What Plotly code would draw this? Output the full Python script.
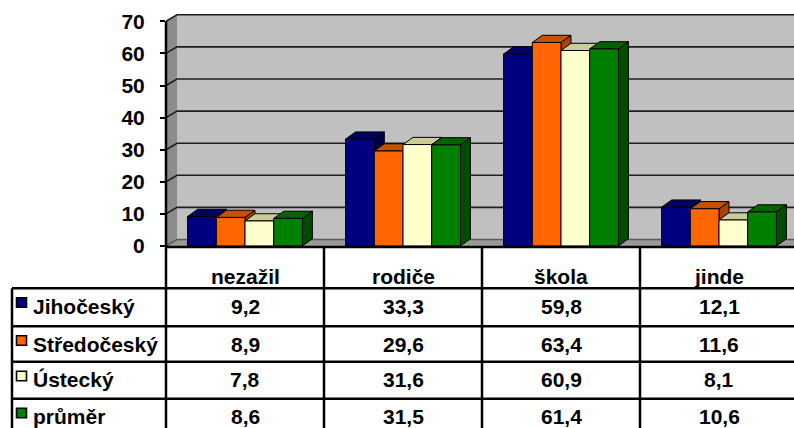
import plotly.graph_objects as go

# ---- data -------------------------------------------------------------
categories = ["nezažil", "rodiče", "škola", "jinde"]
regions = ["Jihočeský", "Středočeský", "Ústecký", "průměr"]
jihocesky = [9.2, 33.3, 59.8, 12.1]
stredocesky = [8.9, 29.6, 63.4, 11.6]
ustecky = [7.8, 31.6, 60.9, 8.1]
prumer = [8.6, 31.5, 61.4, 10.6]
y_ticks = [0, 10, 20, 30, 40, 50, 60, 70]

series = [jihocesky, stredocesky, ustecky, prumer]

# ---- styling ----------------------------------------------------------
front_colors = ["#000080", "#FF6600", "#FFFFCC", "#008000"]
top_colors = ["#000060", "#C45200", "#CCCC99", "#006400"]
side_colors = ["#00004A", "#A84400", "#B5B58A", "#004C00"]

FONT = dict(family="Liberation Sans, Arial, sans-serif", size=21, color="#000000", weight="bold")

W, H = 794, 428
ML, MT, MB = 166, 12, 182
PLOT_W = W - ML
PLOT_H = H - MT - MB
CAT_PX = 158          # width of one category in pixels
PX_PER_UNIT = 3.21    # vertical pixels per value unit

x_range = [-0.5, -0.5 + PLOT_W / CAT_PX]
y_range = [0, PLOT_H / PX_PER_UNIT]
y_top = y_ticks[-1]

BAR_W = 28.7 / CAT_PX
BAR_DX = 10 / CAT_PX
BAR_DY = 7.2 / PX_PER_UNIT
WALL_DX = 11 / CAT_PX
WALL_DY = 6.5 / PX_PER_UNIT


def px_x(px):
    """pixel column -> paper x"""
    return (px - ML) / PLOT_W


def px_y(py):
    """pixel row -> paper y"""
    return (H - MB - py) / PLOT_H


def bar_faces(k, vals):
    front = ([], [])
    top = ([], [])
    side = ([], [])
    for i, v in enumerate(vals):
        x0 = i + (k - 1.5) * BAR_W - BAR_W / 2
        x1 = x0 + BAR_W
        front[0].extend([x0, x1, x1, x0, x0, None])
        front[1].extend([0, 0, v, v, 0, None])
        top[0].extend([x0, x1, x1 + BAR_DX, x0 + BAR_DX, x0, None])
        top[1].extend([v, v, v + BAR_DY, v + BAR_DY, v, None])
        side[0].extend([x1, x1 + BAR_DX, x1 + BAR_DX, x1, x1, None])
        side[1].extend([0, BAR_DY, v + BAR_DY, v, 0, None])
    return front, top, side


fig = go.Figure()

for k, vals in enumerate(series):
    front, top, side = bar_faces(k, vals)
    for (xs, ys), col in ((side, side_colors[k]), (top, top_colors[k]), (front, front_colors[k])):
        fig.add_trace(go.Scatter(
            x=xs, y=ys, mode="lines", fill="toself", fillcolor=col,
            line=dict(color="#000000", width=1), hoverinfo="skip",
            showlegend=False, name=regions[k],
        ))

shapes = []
xl = x_range[0]
xr = x_range[1] + 0.1

# back wall, side wall and floor of the 3D box
shapes.append(dict(type="path", xref="x", yref="y", layer="below",
                   path=f"M{xl + WALL_DX},{WALL_DY} L{xr},{WALL_DY} L{xr},{y_top + WALL_DY} L{xl + WALL_DX},{y_top + WALL_DY} Z",
                   fillcolor="#C0C0C0", line=dict(width=0)))
shapes.append(dict(type="path", xref="x", yref="y", layer="below",
                   path=f"M{xl},0 L{xl + WALL_DX},{WALL_DY} L{xl + WALL_DX},{y_top + WALL_DY} L{xl},{y_top} Z",
                   fillcolor="#8C8C8C", line=dict(width=0)))
shapes.append(dict(type="path", xref="x", yref="y", layer="below",
                   path=f"M{xl},0 L{xr},0 L{xr},{WALL_DY} L{xl + WALL_DX},{WALL_DY} Z",
                   fillcolor="#9A9A9A", line=dict(width=0)))

# gridlines running along the side wall and the back wall
for v in y_ticks:
    col = "#5A5A5A" if v == 0 else "#1E1E1E"
    shapes.append(dict(type="path", xref="x", yref="y", layer="below",
                       path=f"M{xl},{v} L{xl + WALL_DX},{v + WALL_DY} L{xr},{v + WALL_DY}",
                       line=dict(color=col, width=1.6)))

# front value axis line, continuing down as the table border
table_bottom = px_y(H + 10)
shapes.append(dict(type="line", xref="paper", yref="paper", x0=0, x1=0,
                   y0=y_top / y_range[1], y1=table_bottom,
                   line=dict(color="#000000", width=2.5)))
# front category axis line (top of table header)
shapes.append(dict(type="line", xref="paper", yref="paper", x0=0, x1=1.01,
                   y0=px_y(247), y1=px_y(247), line=dict(color="#000000", width=2.6)))

# data table grid
row_lines = [288.3, 326.3, 361.7, 398.7]
TABLE_LEFT = 12
for py in row_lines:
    shapes.append(dict(type="line", xref="paper", yref="paper",
                       x0=px_x(TABLE_LEFT), x1=1.01, y0=px_y(py), y1=px_y(py),
                       line=dict(color="#000000", width=2.5)))
shapes.append(dict(type="line", xref="paper", yref="paper",
                   x0=px_x(TABLE_LEFT), x1=px_x(TABLE_LEFT), y0=px_y(row_lines[0]), y1=table_bottom,
                   line=dict(color="#000000", width=2.5)))
for i in range(len(categories) - 1):
    shapes.append(dict(type="line", xref="x", yref="paper",
                       x0=i + 0.5, x1=i + 0.5, y0=px_y(247), y1=table_bottom,
                       line=dict(color="#000000", width=2.5)))

annotations = []
# header row
for i, cat in enumerate(categories):
    annotations.append(dict(text=cat, xref="x", yref="paper", x=i, y=px_y(276),
                            xanchor="center", yanchor="middle", showarrow=False, font=FONT))

# series rows: legend key, name and values
row_tops = row_lines
for k, (name, vals) in enumerate(zip(regions, series)):
    top_px = row_tops[k]
    shapes.append(dict(type="rect", xref="paper", yref="paper",
                       x0=px_x(16.5), x1=px_x(26.5), y0=px_y(top_px + 9.5), y1=px_y(top_px + 19),
                       fillcolor=front_colors[k], line=dict(color="#000000", width=1.6)))
    annotations.append(dict(text=name, xref="paper", yref="paper", x=px_x(31), y=px_y(top_px + 18),
                            xanchor="left", yanchor="middle", showarrow=False, font=FONT))
    for i, v in enumerate(vals):
        annotations.append(dict(text=f"{v:.1f}".replace(".", ","), xref="x", yref="paper",
                                x=i, y=px_y(top_px + 18), xanchor="center", yanchor="middle",
                                showarrow=False, font=FONT))

fig.update_layout(
    width=W, height=H,
    margin=dict(l=ML, r=0, t=MT, b=MB, pad=0),
    paper_bgcolor="#FFFFFF", plot_bgcolor="#FFFFFF",
    showlegend=False,
    shapes=shapes, annotations=annotations,
    xaxis=dict(range=x_range, showgrid=False, zeroline=False, showline=False,
               showticklabels=False, ticks="", fixedrange=True),
    yaxis=dict(range=y_range, showgrid=False, zeroline=False, showline=False,
               tickvals=y_ticks, ticktext=[str(t) for t in y_ticks],
               ticks="outside", ticklen=5, tickwidth=1.6, tickcolor="#000000",
               ticklabelstandoff=11, tickfont=FONT, fixedrange=True),
)

fig.write_html("out.html")
